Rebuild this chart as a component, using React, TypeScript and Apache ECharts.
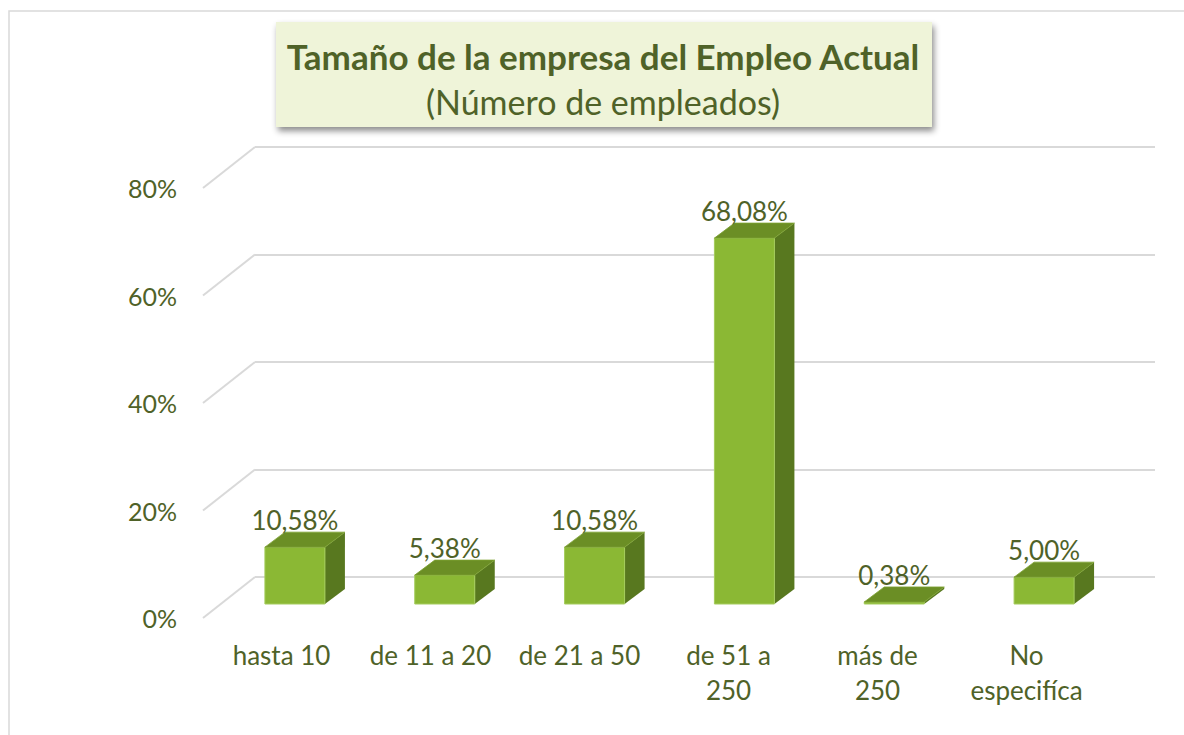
import React, { useEffect, useRef } from "react";
import * as echarts from "echarts";

const categories = ["hasta 10", "de 11 a 20", "de 21 a 50", "de 51 a\n250", "más de\n250", "No\nespecifíca"];
const values = [10.58, 5.38, 10.58, 68.08, 0.38, 5.0];
const yTicks = [0, 20, 40, 60, 80];
const titleText = "Tamaño de la empresa del Empleo Actual";
const subtitleText = "(Número de empleados)";

const FONT = "Lato, 'Noto Sans', sans-serif";
const TEXT_COLOR = "#4f6228";
const GRID_COLOR = "#d9d9d9";
const FRONT = "#8bb834";
const TOP = "#6b8e25";
const SIDE = "#58781f";

const fmt = (v: number) => v.toFixed(2).replace(".", ",") + "%";

export default function App() {
  const ref = useRef<HTMLDivElement>(null);
  useEffect(() => {
    if (!ref.current) return;
    const chart = echarts.init(ref.current, null, { renderer: "svg" });
    const option: any = {
      animation: false,
      backgroundColor: "#ffffff",
      grid: [
        { left: 255, top: 147, width: 900, height: 430 },
        { left: 207, top: 188, width: 894, height: 430 },
        { left: 220, top: 174, width: 899, height: 430 },
      ],
      xAxis: [
        { gridIndex: 0, type: "category", data: categories, show: false },
        {
          gridIndex: 1,
          type: "category",
          data: categories,
          axisLine: { show: false },
          axisTick: { show: false },
          axisLabel: {
            interval: 0,
            color: TEXT_COLOR,
            fontFamily: FONT,
            fontSize: 26,
            lineHeight: 35,
            margin: 19,
          },
        },
        { gridIndex: 2, type: "category", data: categories, show: false },
      ],
      yAxis: [
        {
          gridIndex: 0,
          type: "value",
          min: 0,
          max: 80,
          interval: 20,
          axisLine: { show: false },
          axisTick: { show: false },
          axisLabel: { show: false },
          splitLine: { lineStyle: { color: GRID_COLOR, width: 2 } },
        },
        {
          gridIndex: 1,
          type: "value",
          min: 0,
          max: 80,
          interval: 20,
          axisLine: { show: false },
          axisTick: { show: false },
          splitLine: { show: false },
          axisLabel: {
            formatter: "{value}%",
            color: TEXT_COLOR,
            fontFamily: FONT,
            fontSize: 25,
            margin: 30,
          },
        },
        { gridIndex: 2, type: "value", min: 0, max: 80, interval: 20, show: false },
      ],
      graphic: [
        {
          type: "rect",
          silent: true,
          shape: { x: 9, y: 11, width: 1300, height: 900 },
          style: { fill: "none", stroke: GRID_COLOR, lineWidth: 1.5 },
        },
        {
          type: "rect",
          silent: true,
          shape: { x: 276, y: 22, width: 656, height: 105 },
          style: {
            fill: "#eff4d9",
            shadowBlur: 6,
            shadowOffsetX: 2,
            shadowOffsetY: 4,
            shadowColor: "rgba(0,0,0,0.45)",
          },
        },
        {
          type: "text",
          silent: true,
          x: 603,
          y: 56,
          style: {
            text: titleText,
            fill: TEXT_COLOR,
            font: `bold 35px ${FONT}`,
            textAlign: "center",
            textVerticalAlign: "middle",
          },
        },
        {
          type: "text",
          silent: true,
          x: 603,
          y: 101,
          style: {
            text: subtitleText,
            fill: TEXT_COLOR,
            font: `34px ${FONT}`,
            textAlign: "center",
            textVerticalAlign: "middle",
          },
        },
      ],
      series: [
        {
          type: "custom",
          xAxisIndex: 0,
          yAxisIndex: 0,
          silent: true,
          data: yTicks.map((v) => [0, v]),
          renderItem: (params: any, api: any) => {
            const p = api.coord([0, api.value(1)]);
            const x0 = params.coordSys.x;
            return {
              type: "line",
              shape: { x1: x0, y1: p[1], x2: x0 - 52, y2: p[1] + 41 },
              style: { stroke: GRID_COLOR, lineWidth: 2 },
            };
          },
        },
        {
          type: "custom",
          xAxisIndex: 2,
          yAxisIndex: 2,
          silent: true,
          data: values.map((v, i) => [i, v]),
          renderItem: (params: any, api: any) => {
            const i = api.value(0);
            const v = api.value(1);
            const top = api.coord([i, v]);
            const base = api.coord([i, 0]);
            const half = 30;
            const dx = 20;
            const dy = -15;
            const xl = top[0] - half;
            const xr = top[0] + half;
            const yt = top[1];
            const yb = base[1];
            return {
              type: "group",
              children: [
                {
                  type: "polygon",
                  shape: { points: [[xr, yb], [xr, yt], [xr + dx, yt + dy], [xr + dx, yb + dy]] },
                  style: { fill: SIDE },
                },
                {
                  type: "rect",
                  shape: { x: xl, y: yt, width: xr - xl, height: Math.max(yb - yt, 0.5) },
                  style: { fill: FRONT, stroke: "#a4cc5c", lineWidth: 1 },
                },
                {
                  type: "polygon",
                  shape: { points: [[xl, yt], [xr, yt], [xr + dx, yt + dy], [xl + dx, yt + dy]] },
                  style: { fill: TOP, stroke: "#7da232", lineWidth: 0.8 },
                },
                {
                  type: "text",
                  x: top[0],
                  y: yt - 27,
                  style: {
                    text: fmt(v),
                    fill: TEXT_COLOR,
                    font: `26px ${FONT}`,
                    textAlign: "center",
                    textVerticalAlign: "middle",
                  },
                },
              ],
            };
          },
        },
      ],
    };
    chart.setOption(option);
    return () => chart.dispose();
  }, []);
  return (
    <div
      ref={ref}
      style={{ position: "fixed", left: 0, top: 0, width: 1184, height: 735, background: "#fff" }}
    />
  );
}
